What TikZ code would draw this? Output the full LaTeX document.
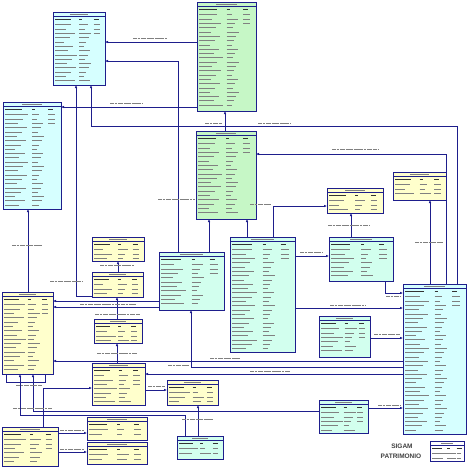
\documentclass[tikz,border=0pt]{standalone}
\usepackage{fontspec}
\setsansfont{Liberation Sans}
\usetikzlibrary{arrows.meta}
\definecolor{bord}{HTML}{1E1E8C}
\definecolor{cyanT}{HTML}{D6FFFF}
\definecolor{greenT}{HTML}{C6F7C6}
\definecolor{mintT}{HTML}{D2FFEE}
\definecolor{yelT}{HTML}{FFFFCC}
\tikzset{
 tbl/.style={draw=bord,line width=1pt,inner sep=0pt,outer sep=0pt,rectangle},
 con/.style={draw=bord,line width=0.9pt},
 arr/.style={-{Latex[length=3pt,width=2.6pt]}},
 txt/.style={draw=black!50,line width=0.5pt},
 hdr/.style={draw=black!80,line width=0.8pt},
 lbl/.style={draw=black!50,line width=0.5pt,dash pattern=on 4pt off 0.7pt on 2.5pt off 0.7pt on 5pt off 0.7pt},
}
\newcommand\ertab[6]{%
 \pgfmathsetmacro\ertw{#4-#2}%
 \pgfmathsetmacro\erth{#5-#3}%
 \pgfmathtruncatemacro\ernr{(#5-#3-11)/4.3}%
 \fill[bord] (#2+1,#3+1) rectangle (#4+1,#5+1);
 \node[tbl,fill=#6,minimum width=\ertw pt,minimum height=\erth pt,anchor=north west] (#1) at (#2,#3) {};
 \draw[bord,line width=0.5pt] (#2,#3+4.6) -- (#4,#3+4.6);
 \draw[txt] ({#2+0.33*\ertw},#3+2.4) -- ({#2+0.67*\ertw},#3+2.4);
 \draw[hdr] (#2+2,#3+7.4) -- ++({0.3*\ertw},0);
 \draw[hdr] ({#2+0.5*\ertw},#3+7.4) -- ++(3,0);
 \draw[hdr] ({#2+0.78*\ertw},#3+7.4) -- ++(5,0);
 \foreach \i in {1,...,\ernr}{%
   \pgfmathsetmacro\yy{#3+10.5+(\i-0.5)*4.3}%
   \pgfmathsetmacro\la{min(0.45*\ertw,0.18*\ertw+mod(\i*7+#2,11)*1.3)}%
   \pgfmathsetmacro\lb{min(0.25*\ertw,5+mod(\i*5+#3,7)*1.2)}%
   \draw[txt] (#2+2,\yy) -- ++(\la,0);
   \draw[txt] ({#2+0.5*\ertw},\yy) -- ++(\lb,0);
   \ifnum\i<4 \draw[txt] ({#2+0.78*\ertw},\yy) -- ++({0.12*\ertw},0);\fi
 }%
}
\begin{document}
\begin{tikzpicture}[x=1pt,y=-1pt]
\fill[white] (0,0) rectangle (469,467);
\useasboundingbox (0,0) rectangle (469,467);
% tables
\ertab{T1}{53}{12}{105}{85}{cyanT}
\ertab{T2}{197}{2}{256}{111}{greenT}
\ertab{T3}{3}{102}{61}{209}{cyanT}
\ertab{T4}{196}{131}{256}{219}{greenT}
\ertab{T5}{327}{188}{383}{213}{yelT}
\ertab{T6}{393}{172}{446}{200}{yelT}
\ertab{T7}{92}{237}{144}{261}{yelT}
\ertab{T8}{92}{272}{143}{297}{yelT}
\ertab{T9}{159}{252}{224}{310}{mintT}
\ertab{T10}{230}{237}{295}{352}{mintT}
\ertab{T11}{329}{237}{393}{281}{mintT}
\ertab{T12}{403}{284}{466}{434}{cyanT}
\ertab{T13}{2}{292}{53}{374}{yelT}
\ertab{T14}{94}{319}{142}{343}{yelT}
\ertab{T15}{319}{316}{370}{357}{mintT}
\ertab{T16}{92}{363}{145}{405}{yelT}
\ertab{T23}{167}{380}{218}{405}{yelT}
\ertab{T17}{87}{417}{147}{440}{yelT}
\ertab{T18}{87}{442}{147}{464}{yelT}
\ertab{T19}{2}{427}{58}{466}{yelT}
\ertab{T20}{177}{436}{223}{459}{mintT}
\ertab{T21}{319}{400}{368}{433}{mintT}
\ertab{T22}{430}{441}{464}{461}{white}
% connectors
\draw[con,arr] (T2.west |- 0,42) -- (T1.east |- 0,42);
\draw[con,arr] (T9.north -| 178,0) |- (T1.east |- 0,61);
\draw[con,arr] (T4.north -| 225,0) -- (T2.south -| 225,0);
\draw[con,arr] (T8.west |- 0,296) -| (T1.south -| 76,0);
\draw[con,arr] (T12.north -| 457,0) -- (457,126) -| (T1.south -| 91,0);
\draw[con,arr] (T2.west |- 0,107) -- (T3.east |- 0,107);
\draw[con,arr] (T12.north -| 446,0) |- (T4.east |- 0,154);
\draw[con,arr] (T9.north -| 209,0) -- (T4.south -| 209,0);
\draw[con,arr] (T10.north -| 247,0) -- (T4.south -| 247,0);
\draw[con,arr] (T10.north -| 273,0) |- (T5.west |- 0,206);
\draw[con,arr] (T11.north -| 351,0) -- (T5.south -| 351,0);
\draw[con,arr] (T12.north -| 430,0) -- (T6.south -| 430,0);
\draw[con,arr] (T10.east |- 0,256) -- (T11.west |- 0,256);
\draw[con,arr] (T10.east |- 0,308) -- (T12.west |- 0,308);
\draw[con,arr] (T15.east |- 0,338) -- (T12.west |- 0,338);
\draw[con,arr] (T12.west |- 0,361) -- (T13.east |- 0,361);
\draw[con,arr] (T12.west |- 0,367) -| (T9.south -| 191,0);
\draw[con,arr] (T12.west |- 0,374) -- (T16.east |- 0,374);
\draw[con,arr] (T9.west |- 0,301) -- (T13.east |- 0,301);
\draw[con,arr] (T9.west |- 0,307) -- (T13.east |- 0,307);
\draw[con,arr] (T13.north -| 28,0) -- (T3.south -| 28,0);
\draw[con,arr] (T8.north -| 118,0) -- (T7.south -| 118,0);
\draw[con,arr] (T14.north -| 117,0) -- (T8.south -| 117,0);
\draw[con,arr] (T16.north -| 117,0) -- (T14.south -| 117,0);
\draw[con,arr] (T16.east |- 0,390) -- (T23.west |- 0,390);
\draw[con,arr] (T20.north -| 198,0) -- (T23.south -| 198,0);
\draw[con,arr] (T20.north -| 185,0) -- (185,415) -| (T13.south -| 20,0);
\draw[con,arr] (T21.west |- 0,411) -| (T13.south -| 33,0);
\draw[con,arr] (T21.east |- 0,408) -- (T12.west |- 0,408);
\draw[con,arr] (T19.north -| 43,0) |- (T16.west |- 0,388);
\draw[con,arr] (T19.east |- 0,433) -- (T17.west |- 0,433);
\draw[con,arr] (T19.east |- 0,452) -- (T18.west |- 0,452);
\draw[con] (T13.south -| 6,0) -- (6,382) -| (T13.south -| 45,0);
\draw[con,arr] (T11.south -| 385,0) |- (T12.west |- 0,293);
% connector labels
\draw[lbl] (133,38) -- (168,38);
\draw[lbl] (158,199) -- (195,199);
\draw[lbl] (205,123) -- (222,123);
\draw[lbl] (258,123) -- (290,123);
\draw[lbl] (110,103) -- (142,103);
\draw[lbl] (332,149) -- (378,149);
\draw[lbl] (250,204) -- (271,204);
\draw[lbl] (328,225) -- (370,225);
\draw[lbl] (415,242) -- (443,242);
\draw[lbl] (300,252) -- (322,252);
\draw[lbl] (330,305) -- (366,305);
\draw[lbl] (374,334) -- (400,334);
\draw[lbl] (210,358) -- (240,358);
\draw[lbl] (168,365) -- (189,365);
\draw[lbl] (250,371) -- (290,371);
\draw[lbl] (80,304) -- (136,304);
\draw[lbl] (12,245) -- (42,245);
\draw[lbl] (50,281) -- (83,281);
\draw[lbl] (100,265) -- (135,265);
\draw[lbl] (95,314) -- (140,314);
\draw[lbl] (97,353) -- (137,353);
\draw[lbl] (148,386) -- (165,386);
\draw[lbl] (182,419) -- (213,419);
\draw[lbl] (13,408) -- (52,408);
\draw[lbl] (16,385) -- (42,385);
\draw[lbl] (60,430) -- (84,430);
\draw[lbl] (60,449) -- (84,449);
\draw[lbl] (378,405) -- (400,405);
\draw[lbl] (386,296) -- (400,296);
% title
\node[font=\sffamily\bfseries\fontsize{6.5}{7}\selectfont,text=black!75,inner sep=0pt] (sig) at (402,446) {SIGAM};
\node[font=\sffamily\bfseries\fontsize{6.5}{7}\selectfont,text=black!75,inner sep=0pt] (pat) at (401,456) {PATRIMONIO};
\end{tikzpicture}
\end{document}
